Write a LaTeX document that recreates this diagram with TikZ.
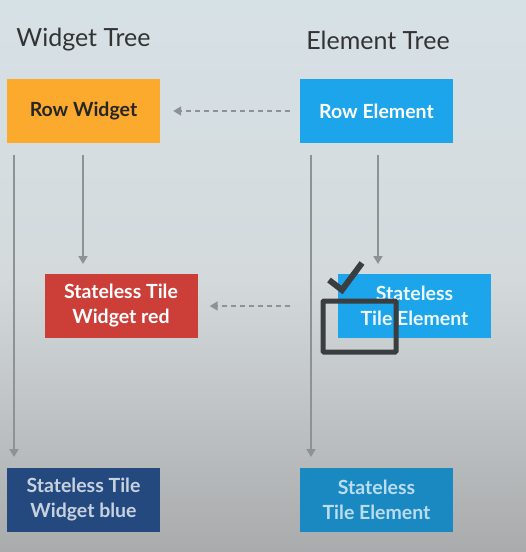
\documentclass[tikz,border=0pt]{standalone}
\usepackage{fontspec}
\setmainfont{Lato}
\usetikzlibrary{arrows.meta}
\definecolor{bgtop}{HTML}{D6E1E6}
\definecolor{bgmid}{HTML}{D4DADC}
\definecolor{bgbot}{HTML}{A9ABAC}
\definecolor{linkgray}{HTML}{8F9294}
\definecolor{wOrange}{HTML}{FBAA2D}
\definecolor{eBlue}{HTML}{1CA5EA}
\definecolor{wRed}{HTML}{CC3E38}
\definecolor{wNavy}{HTML}{23497F}
\definecolor{eBlueDim}{HTML}{1A89C2}
\definecolor{markgray}{HTML}{3B3E41}
\begin{document}
\begin{tikzpicture}[x=1pt,y=-1pt,
  box/.style={minimum width=153pt,minimum height=64pt,inner sep=0pt,align=center,
    font=\fontsize{19.5}{25}\selectfont\bfseries,text=white},
  title/.style={font=\fontsize{25}{28}\selectfont,text=black!80},
  link/.style={draw=linkgray,line width=1.8pt,-{Triangle[length=8pt,width=9pt]}},
  dlink/.style={link,dash pattern=on 5pt off 4pt}
]
\useasboundingbox (0,0) rectangle (526,552);
\shade[top color=bgtop,bottom color=bgbot,middle color=bgmid] (0,0) rectangle (526,552);

% column titles
\node[title] (wt) at (83.5,40) {Widget Tree};
\node[title] (et) at (378,40) {Element Tree};

% widget tree
\node[box,fill=wOrange,text=black!85] (rw) at (83.5,111) {Row Widget};
\node[box,fill=wRed] (sr) at (121,306) {Stateless Tile\\Widget red};
\node[box,fill=wNavy,text=white!75!wNavy] (sb) at (83.5,500) {Stateless Tile\\Widget blue};

% element tree
\node[box,fill=eBlue] (re) at (376.5,111) {Row Element};
\node[box,fill=eBlue,text=white!92!eBlue] (se) at (414.5,306) {Stateless\\Tile Element};
\node[box,fill=eBlueDim,text=white!70!eBlueDim] (sb2) at (376.5,500) {Stateless\\Tile Element};

% element to widget references
\draw[dlink] ([xshift=-10pt]re.west) -- ([xshift=13pt]rw.east);
\draw[dlink] ([xshift=-48pt]se.west) -- ([xshift=12pt]sr.east);

% parent to child links
\coordinate (a1) at (14,155);  \coordinate (b1) at (14,457);
\coordinate (a2) at (83,155);  \coordinate (b2) at (83,264);
\coordinate (a3) at (311,155); \coordinate (b3) at (311,457);
\coordinate (a4) at (378,155); \coordinate (b4) at (378,264);
\draw[link] (a1) -- (b1);
\draw[link] (a2) -- (b2);
\draw[link] (a3) -- (b3);
\draw[link] (a4) -- (b4);

% checkbox mark
\coordinate (c1) at (329,280);
\coordinate (c2) at (342,290);
\coordinate (c3) at (362,263);
\draw[markgray,line width=6pt] (c1) -- (c2) -- (c3);
\draw[markgray,line width=5pt,rounded corners=1pt] (323,301) rectangle (396,352);
\end{tikzpicture}
\end{document}
